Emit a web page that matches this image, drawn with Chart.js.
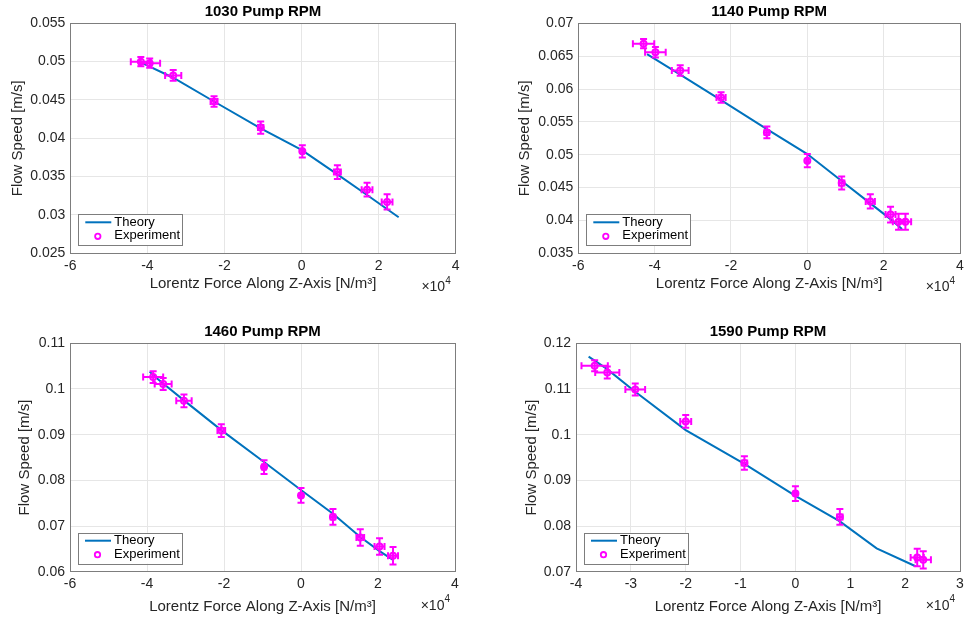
<!DOCTYPE html>
<html>
<head>
<meta charset="utf-8">
<script src="https://cdn.jsdelivr.net/npm/chart.js@4/dist/chart.umd.min.js"></script>
<style>
  html, body { margin: 0; padding: 0; background: #fff; }
  body { width: 965px; height: 619px; position: relative; overflow: hidden; }
  .panel { position: absolute; }
</style>
</head>
<body>
<div class="panel" id="p1"><canvas id="c1"></canvas></div>
<div class="panel" id="p2"><canvas id="c2"></canvas></div>
<div class="panel" id="p3"><canvas id="c3"></canvas></div>
<div class="panel" id="p4"><canvas id="c4"></canvas></div>
<script>
/* ---------------------------------- Data ---------------------------------- */
const titles = ['1030 Pump RPM', '1140 Pump RPM', '1460 Pump RPM', '1590 Pump RPM'];

// x values are in units of 1e4 N/m^3 (the axis shows the x10^4 multiplier)
const theoryX1030 = [-4.13, -3.33, -2.27, -1.06, 0, 0.93, 1.70, 2.52];
const theoryY1030 = [0.0498, 0.0479, 0.0448, 0.0413, 0.0385, 0.0353, 0.0326, 0.0297];
const expX1030 = [-4.17, -3.94, -3.33, -2.27, -1.06, 0.02, 0.93, 1.70, 2.22];
const expY1030 = [0.0500, 0.0498, 0.0482, 0.0448, 0.0414, 0.0383, 0.0356, 0.0333, 0.0317];
const expXErr1030 = [0.26, 0.27, 0.21, 0.09, 0.07, 0.03, 0.09, 0.14, 0.14];
const expYErr1030 = [0.0006, 0.0006, 0.0007, 0.0007, 0.0008, 0.0008, 0.0009, 0.0009, 0.0010];

const theoryX1140 = [-4.2, -3.33, -2.26, -1.06, 0, 0.9, 1.65, 2.18, 2.48];
const theoryY1140 = [0.0653, 0.0622, 0.0583, 0.0539, 0.0501, 0.0460, 0.0426, 0.0402, 0.0387];
const expX1140 = [-4.29, -3.98, -3.33, -2.26, -1.06, 0, 0.90, 1.65, 2.18, 2.39, 2.57];
const expY1140 = [0.0669, 0.0656, 0.0628, 0.0587, 0.0534, 0.0491, 0.0457, 0.0429, 0.0409, 0.0398, 0.0398];
const expXErr1140 = [0.28, 0.27, 0.22, 0.12, 0.06, 0.03, 0.07, 0.12, 0.13, 0.15, 0.15];
const expYErr1140 = [0.0007, 0.0008, 0.0008, 0.0008, 0.0009, 0.0010, 0.0010, 0.0011, 0.0012, 0.0012, 0.0012];

const theoryX1460 = [-3.93, -3.84, -3.58, -3.04, -2.07, -0.96, 0, 0.83, 1.54, 2.04, 2.39];
const theoryY1460 = [0.1038, 0.1030, 0.1012, 0.0975, 0.0910, 0.0840, 0.0779, 0.0727, 0.0676, 0.0645, 0.0626];
const expX1460 = [-3.84, -3.58, -3.04, -2.07, -0.96, 0, 0.83, 1.54, 2.04, 2.39];
const expY1460 = [0.1026, 0.1011, 0.0974, 0.0909, 0.0829, 0.0767, 0.0720, 0.0675, 0.0655, 0.0635];
const expXErr1460 = [0.26, 0.22, 0.20, 0.10, 0.05, 0.03, 0.06, 0.10, 0.13, 0.13];
const expYErr1460 = [0.0013, 0.0013, 0.0014, 0.0014, 0.0015, 0.0016, 0.0017, 0.0018, 0.0018, 0.0019];

const theoryX1590 = [-3.77, -3.45, -2.92, -2.0, -0.93, 0, 0.81, 1.48, 2.19];
const theoryY1590 = [0.1171, 0.1145, 0.1094, 0.1010, 0.0936, 0.0866, 0.0810, 0.0751, 0.0712];
const expX1590 = [-3.66, -3.43, -2.92, -2.0, -0.93, 0, 0.81, 2.22, 2.33];
const expY1590 = [0.1151, 0.1136, 0.1099, 0.1029, 0.0938, 0.0871, 0.0820, 0.0731, 0.0726];
const expXErr1590 = [0.24, 0.22, 0.18, 0.10, 0.05, 0.03, 0.05, 0.12, 0.14];
const expYErr1590 = [0.0012, 0.0013, 0.0013, 0.0014, 0.0015, 0.0016, 0.0017, 0.0019, 0.0019];

// axis limits / ticks
const xMin = [-6, -6, -6, -4];
const xMax = [4, 4, 4, 3];
const xStep = [2, 2, 2, 1];
const yMin = [0.025, 0.035, 0.06, 0.07];
const yMax = [0.055, 0.07, 0.11, 0.12];
const yStep = [0.005, 0.005, 0.01, 0.01];

const legendLabels = ['Theory', 'Experiment'];
const xLabel = 'Lorentz Force Along Z-Axis [N/m³]';
const yLabel = 'Flow Speed [m/s]';

/* --------------------------------- Layout --------------------------------- */
const FONT = '"Liberation Sans", Arial, Helvetica, sans-serif';
const TEXT = '#262626';
const FRAME = '#7d7d7d';
const panels = [
  { el: 'p1', canvas: 'c1', l: 0,   t: 0,   w: 482, h: 309, area: [70.3, 23.3, 455.7, 253.3], yTitlePad: 9,  xTitlePad: 16 },
  { el: 'p2', canvas: 'c2', l: 483, t: 0,   w: 482, h: 309, area: [578.3, 23.3, 961.7, 253.3], yTitlePad: 33, xTitlePad: 16 },
  { el: 'p3', canvas: 'c3', l: 0,   t: 310, w: 482, h: 309, area: [70, 343.3, 455, 571.7], yTitlePad: 16, xTitlePad: 3 },
  { el: 'p4', canvas: 'c4', l: 483, t: 310, w: 482, h: 309, area: [576, 343.3, 963.3, 571.7], yTitlePad: 40, xTitlePad: 3 },
];

const toPoints = (xs, ys) => xs.map((x, i) => ({ x, y: ys[i] }));
const fmt = v => String(+v.toFixed(4));

/* ------------------------- Error bars, box, legend ------------------------ */
const matlabLook = {
  id: 'matlabLook',
  beforeDatasetDraw(chart, args) {
    const ds = chart.data.datasets[args.index];
    if (!ds.errX) return;
    const { ctx } = chart;
    const xs = chart.scales.x, ys = chart.scales.y;
    const cap = 3.5;
    ctx.save();
    ctx.strokeStyle = ds.borderColor;
    ctx.lineWidth = 2;
    ds.data.forEach((p, i) => {
      const px = xs.getPixelForValue(p.x), py = ys.getPixelForValue(p.y);
      const xa = xs.getPixelForValue(p.x - ds.errX[i]), xb = xs.getPixelForValue(p.x + ds.errX[i]);
      const ya = ys.getPixelForValue(p.y - ds.errY[i]), yb = ys.getPixelForValue(p.y + ds.errY[i]);
      ctx.beginPath();
      ctx.moveTo(xa, py); ctx.lineTo(xb, py);
      ctx.moveTo(xa, py - cap); ctx.lineTo(xa, py + cap);
      ctx.moveTo(xb, py - cap); ctx.lineTo(xb, py + cap);
      ctx.moveTo(px, ya); ctx.lineTo(px, yb);
      ctx.moveTo(px - cap, ya); ctx.lineTo(px + cap, ya);
      ctx.moveTo(px - cap, yb); ctx.lineTo(px + cap, yb);
      ctx.stroke();
    });
    ctx.restore();
  },
  afterDraw(chart, args, opts) {
    const { ctx, chartArea: a } = chart;
    ctx.save();
    // axes box
    ctx.strokeStyle = FRAME;
    ctx.lineWidth = 1;
    ctx.strokeRect(Math.round(a.left) + 0.5, Math.round(a.top) + 0.5,
      Math.round(a.right - a.left), Math.round(a.bottom - a.top));

    // title
    ctx.fillStyle = '#000';
    ctx.font = 'bold 15px ' + FONT;
    ctx.textAlign = 'center';
    ctx.textBaseline = 'middle';
    ctx.fillText(opts.title, (a.left + a.right) / 2, a.top - 11);

    // x10^4 multiplier
    ctx.fillStyle = TEXT;
    ctx.textAlign = 'right';
    ctx.font = '10px ' + FONT;
    const supW = ctx.measureText('4').width;
    ctx.fillText('4', a.right - 5, a.bottom + 28);
    ctx.font = '14px ' + FONT;
    ctx.fillText('×10', a.right - 5 - supW, a.bottom + 34);

    // legend
    const bx = a.left + 8, by = a.bottom - 39, bw = 104, bh = 31;
    ctx.fillStyle = '#fff';
    ctx.fillRect(bx, by, bw, bh);
    ctx.strokeStyle = FRAME;
    ctx.strokeRect(Math.round(bx) + 0.5, Math.round(by) + 0.5, bw, bh);
    const th = chart.data.datasets[1], ex = chart.data.datasets[0];
    ctx.strokeStyle = th.borderColor;
    ctx.lineWidth = 2;
    ctx.beginPath();
    ctx.moveTo(bx + 7, by + 8); ctx.lineTo(bx + 33, by + 8);
    ctx.stroke();
    ctx.strokeStyle = ex.borderColor;
    ctx.lineWidth = 1.8;
    ctx.beginPath();
    ctx.arc(bx + 19.5, by + 22, 2.7, 0, Math.PI * 2);
    ctx.stroke();
    ctx.fillStyle = '#000';
    ctx.font = '13px ' + FONT;
    ctx.textAlign = 'left';
    ctx.fillText(th.label, bx + 36, by + 8);
    ctx.fillText(ex.label, bx + 36, by + 21.5);
    ctx.restore();
  }
};

/* --------------------------------- Charts --------------------------------- */
const series = [
  [theoryX1030, theoryY1030, expX1030, expY1030, expXErr1030, expYErr1030],
  [theoryX1140, theoryY1140, expX1140, expY1140, expXErr1140, expYErr1140],
  [theoryX1460, theoryY1460, expX1460, expY1460, expXErr1460, expYErr1460],
  [theoryX1590, theoryY1590, expX1590, expY1590, expXErr1590, expYErr1590],
];

const makeChart = (i) => {
  const p = panels[i];
  const [tX, tY, eX, eY, eXErr, eYErr] = series[i];
  const box = document.getElementById(p.el);
  Object.assign(box.style, { left: p.l + 'px', top: p.t + 'px', width: p.w + 'px', height: p.h + 'px' });

  const [aL, aT, aR, aB] = p.area;
  const yWidth = aL - p.l;
  const xHeight = p.t + p.h - aB;

  new Chart(document.getElementById(p.canvas), {
    type: 'scatter',
    data: {
      datasets: [
        {
          label: legendLabels[1],
          data: toPoints(eX, eY),
          errX: eXErr,
          errY: eYErr,
          showLine: false,
          borderColor: '#ff00ff',
          backgroundColor: 'rgba(0,0,0,0)',
          borderWidth: 2,
          pointRadius: 3,
          pointHoverRadius: 3,
        },
        {
          label: legendLabels[0],
          data: toPoints(tX, tY),
          showLine: true,
          borderColor: '#0072bd',
          borderWidth: 2,
          pointRadius: 0,
          tension: 0,
        }
      ]
    },
    options: {
      responsive: true,
      maintainAspectRatio: false,
      animation: false,
      events: [],
      layout: { padding: { top: aT - p.t, right: p.l + p.w - aR, left: 0, bottom: 0 } },
      plugins: {
        legend: { display: false },
        tooltip: { enabled: false },
        matlabLook: { title: titles[i] },
      },
      scales: {
        x: {
          type: 'linear',
          min: xMin[i], max: xMax[i],
          ticks: { stepSize: xStep[i], color: TEXT, font: { family: FONT, size: 14 }, padding: 4, maxRotation: 0, callback: fmt },
          grid: { color: '#e6e6e6', drawTicks: false },
          border: { display: false },
          title: { display: true, text: xLabel, color: TEXT, font: { family: FONT, size: 15 }, padding: { top: 0, bottom: p.xTitlePad } },
          afterFit: s => { s.height = xHeight; s.paddingLeft = 0; s.paddingRight = 0; },
        },
        y: {
          type: 'linear',
          min: yMin[i], max: yMax[i],
          ticks: { stepSize: yStep[i], color: TEXT, font: { family: FONT, size: 14 }, padding: 5, callback: fmt },
          grid: { color: '#e6e6e6', drawTicks: false },
          border: { display: false },
          title: { display: true, text: yLabel, color: TEXT, font: { family: FONT, size: 15 }, padding: { top: p.yTitlePad, bottom: 0 } },
          afterFit: s => { s.width = yWidth; s.paddingTop = 0; s.paddingBottom = 0; },
        }
      }
    },
    plugins: [matlabLook]
  });
};

[0, 1, 2, 3].forEach(makeChart);
</script>
</body>
</html>
